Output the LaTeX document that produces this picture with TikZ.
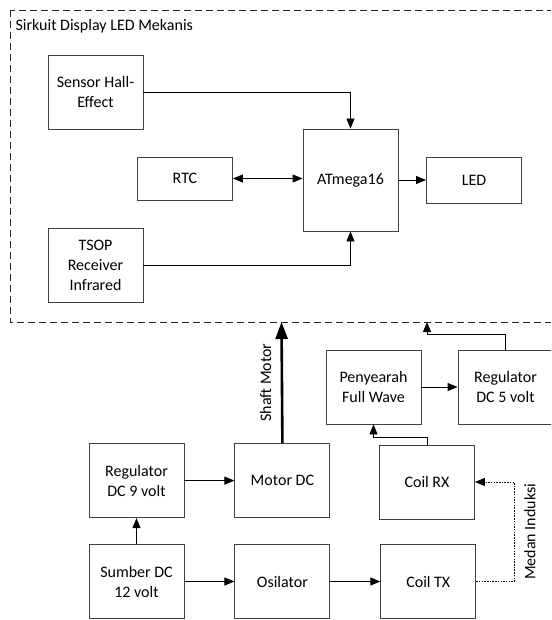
\documentclass[tikz,border=0pt]{standalone}
\usepackage{fontspec}
\setmainfont{Carlito}
\usetikzlibrary{arrows.meta,positioning}

\begin{document}
\begin{tikzpicture}[
    x=1pt, y=-1pt,
    font=\fontsize{16}{20}\selectfont,
    node distance=50pt,
    block/.style={rectangle, draw=black!75, line width=0.9pt, minimum width=95pt, minimum height=74pt, align=center, inner sep=2pt},
    groupbox/.style={draw=black!85, line width=0.9pt, dash pattern=on 7pt off 4pt},
    arrow/.style={-{Triangle[length=10pt,width=8pt]}, line width=0.9pt},
    biarrow/.style={{Triangle[length=10pt,width=8pt]}-{Triangle[length=10pt,width=8pt]}, line width=0.9pt},
    shaft/.style={-{Triangle[length=17pt,width=12pt]}, line width=2.6pt},
    induction/.style={-{Triangle[length=10pt,width=8pt]}, line width=1pt, dash pattern=on 1.5pt off 1.2pt}
]
\useasboundingbox (0,0) rectangle (551,620);
\clip (0,0) rectangle (551,620);

\draw[groupbox] (10,10) rectangle (575,322);
\node[anchor=west] (title) at (12,26) {Sirkuit Display LED Mekanis};
\coordinate (shaftin) at (281.5,322);
\coordinate (powerin) at (427,322);

\node[block] (sensor) at (95.5,92) {Sensor Hall-\\Effect};
\node[block, minimum height=43pt] (rtc) at (185,178.5) {RTC};
\node[block, minimum height=102pt] (atmega) at (350.5,180) {ATmega16};
\node[block, minimum height=46pt] (led) at (474,180) {LED};
\node[block] (tsop) at (95.5,265) {TSOP\\Receiver\\Infrared};

\node[block] (penyearah) at (373.5,387) {Penyearah\\Full Wave};
\node[block] (reg5) at (505.5,387) {Regulator\\DC 5 volt};
\node[block] (sumber) at (136.5,581.5) {Sumber DC\\12 volt};
\node[block, above=26pt of sumber] (reg9) {Regulator\\DC 9 volt};
\node[block, right=of sumber] (osilator) {Osilator};
\node[block, right=of reg9] (motor) {Motor DC};
\node[block, right=50pt of osilator] (coiltx) {Coil TX};
\node[block] (coilrx) at (427,482) {Coil RX};

\draw[arrow] (sensor.east) -| (atmega.north);
\draw[biarrow] (rtc.east) -- (rtc.east -| atmega.west);
\draw[arrow] (tsop.east) -| (atmega.south);
\draw[arrow] (atmega.east) -- (led.west);

\draw[shaft] (motor.north) -- node[midway, rotate=90, anchor=south, inner ysep=9.5pt] {Shaft Motor} (shaftin);
\draw[arrow] (reg5.north) -- ++(0,-15) -| (powerin);
\draw[arrow] (penyearah.east) -- (reg5.west);
\draw[arrow] (coilrx.north) -- ++(0,-7) -| (penyearah.south);
\draw[arrow] (sumber.north) -- (reg9.south);
\draw[arrow] (reg9.east) -- (motor.west);
\draw[arrow] (sumber.east) -- (osilator.west);
\draw[arrow] (osilator.east) -- (coiltx.west);
\draw[induction] (coiltx.east) -- ++(38,0) coordinate (bend) -- node[midway, rotate=90, anchor=north, inner ysep=9.5pt] {Medan Induksi} (bend |- coilrx.east) -- (coilrx.east);
\end{tikzpicture}
\end{document}
